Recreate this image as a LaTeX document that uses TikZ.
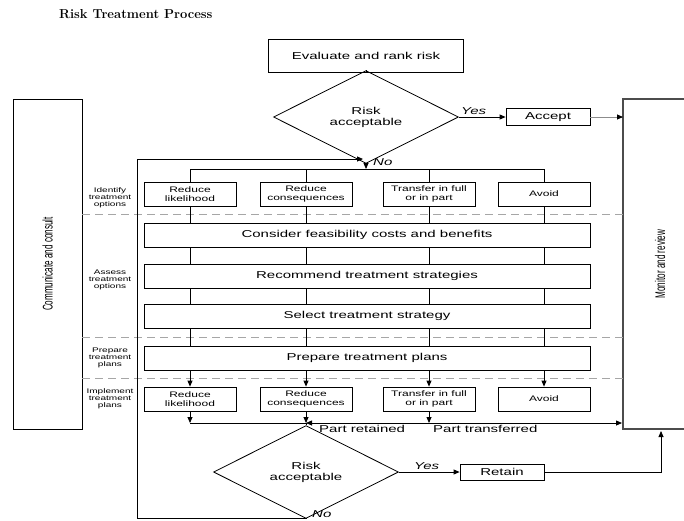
\documentclass[tikz,border=0pt]{standalone}
\usepackage{fontspec}
\setsansfont[FakeStretch=1.5]{Liberation Sans}
\newfontfamily\narrowfont[FakeStretch=0.58]{Liberation Sans}
\usetikzlibrary{shapes.geometric,arrows.meta}
\begin{document}
\begin{tikzpicture}[x=1pt,y=-1pt,
  font=\sffamily,
  ln/.style={line width=0.8pt},
  box/.style={draw, line width=0.8pt, fill=white, inner sep=0pt, align=center},
  bigbox/.style={box, minimum width=446pt, minimum height=24pt, font=\sffamily\fontsize{10}{12}\selectfont},
  optbox/.style={box, minimum width=92pt, minimum height=24pt, font=\sffamily\fontsize{8}{8.6}\selectfont},
  smallbox/.style={box, minimum width=84pt, minimum height=16pt, font=\sffamily\fontsize{10}{12}\selectfont},
  dec/.style={diamond, draw, line width=0.8pt, minimum width=185pt, minimum height=72pt, inner sep=0pt, align=center, font=\sffamily\fontsize{10}{11}\selectfont},
  arr/.style={-{Triangle[length=6pt,width=5pt]}, line width=0.8pt},
  sep/.style={dash pattern=on 8pt off 5pt, draw=gray!70, line width=0.8pt},
  lane/.style={align=center, inner sep=0pt, font=\sffamily\fontsize{6.7}{6.8}\selectfont},
  lbl/.style={inner sep=0pt, font=\sffamily\fontsize{10}{12}\selectfont},
  yn/.style={inner sep=0pt, font=\sffamily\itshape\fontsize{10}{12}\selectfont},
  side/.style={draw, line width=0.8pt, inner sep=0pt, rotate=90, font=\narrowfont\fontsize{14}{16}\selectfont}
]
\useasboundingbox (0,0) rectangle (684,520);

% title
\node[anchor=west, inner sep=0pt, font=\rmfamily\bfseries\fontsize{13}{15}\selectfont] (title) at (59,14) {Risk Treatment Process};

% side boxes
\node[side, minimum width=330pt, minimum height=69pt] (comm) at (47.5,264) {Communicate and consult};
\coordinate (monTL) at (623,99);
\coordinate (monBL) at (623,429);
\coordinate (monR) at (661,429);
\draw[line width=1.3pt, draw=black!70] (684,99) -- (monTL) -- (monBL) -- (684,429);
\node[inner sep=0pt, rotate=90, font=\narrowfont\fontsize{14}{16}\selectfont] (montxt) at (660,264) {Monitor and review};

% separators
\draw[sep] (82,214) -- (623,214);
\draw[sep] (82,337) -- (623,337);
\draw[sep] (82,378) -- (623,378);

% lane labels
\node[lane] (l1) at (110,198) {Identify\\treatment\\options};
\node[lane] (l2) at (110,280) {Assess\\treatment\\options};
\node[lane] (l3) at (110,358) {Prepare\\treatment\\plans};
\node[lane] (l4) at (110,399) {Implement\\treatment\\plans};

% top
\node[box, minimum width=195pt, minimum height=33pt, font=\sffamily\fontsize{10}{12}\selectfont] (eval) at (366,55.5) {Evaluate and rank risk};
\node[dec] (d1) at (366,117) {Risk\\acceptable};
\node[smallbox, minimum height=17pt] (accept) at (548,117) {Accept};

% option rows
\coordinate (bus1) at (0,169);
\coordinate (bus2) at (0,423);
\node[optbox] (ra1) at (190,194) {Reduce\\likelihood};
\node[optbox] (ra2) at (306,194) {Reduce\\consequences};
\node[optbox] (ra3) at (429,194) {Transfer in full\\or in part};
\node[optbox] (ra4) at (544,194) {Avoid};

\node[bigbox] (cf) at (367,235) {Consider feasibility costs and benefits};
\node[bigbox] (rc) at (367,276) {Recommend treatment strategies};
\node[bigbox] (sl) at (367,316) {Select treatment strategy};
\node[bigbox] (pp) at (367,358) {Prepare treatment plans};

\node[optbox] (rb1) at (190,399) {Reduce\\likelihood};
\node[optbox] (rb2) at (306,399) {Reduce\\consequences};
\node[optbox] (rb3) at (429,399) {Transfer in full\\or in part};
\node[optbox] (rb4) at (544,399) {Avoid};

% bottom
\node[dec] (d2) at (306,472) {Risk\\acceptable};
\node[smallbox] (retain) at (502,472) {Retain};

% connectors top
\draw[ln] (eval.south) -- (d1.north);
\draw[arr] (d1.east) -- (accept.west);
\draw[arr, draw=black!45, -{Triangle[length=6pt,width=5pt,color=black]}] (accept.east) -- (accept.east -| monTL);
\draw[arr] (d1.south) -- (d1.south |- bus1);
\draw[ln] (ra1.north |- bus1) -- (ra4.north |- bus1);

\foreach \i in {1,2,3,4} {
  \draw[ln] (ra\i.north |- bus1) -- (ra\i.north);
  \draw[ln] (ra\i.south) -- (ra\i.south |- cf.north);
  \draw[ln] (ra\i.south |- cf.south) -- (ra\i.south |- rc.north);
  \draw[ln] (ra\i.south |- rc.south) -- (ra\i.south |- sl.north);
  \draw[ln] (ra\i.south |- sl.south) -- (ra\i.south |- pp.north);
  \draw[arr] (ra\i.south |- pp.south) -- (rb\i.north);
}
\foreach \i in {1,2,3} {
  \draw[arr] (rb\i.south) -- (rb\i.south |- bus2);
}
\draw[ln] (rb1.south |- bus2) -- (rb2.south |- bus2);
\draw[arr] (rb3.south |- bus2) -- (rb2.south |- bus2);
\draw[arr, shorten >=1pt] (rb3.south |- bus2) -- (bus2 -| monTL);
\draw[ln] (rb2.south |- bus2) -- (d2.north);

\node[lbl, anchor=north west] (pr) at (319,425) {Part retained};
\node[lbl, anchor=north west] (pt) at (433,425) {Part transferred};

% bottom connectors
\draw[arr] (d2.east) -- (retain.west);
\draw[arr, shorten >=2pt] (retain.east) -- (retain.east -| monR) -- (monR);

% loop back
\coordinate (lb) at (137,518);
\coordinate (lt) at (137,159);
\draw[arr, shorten >=3pt] (d2.south) -- (d2.south |- lb) -- (lb) -- (lt) -- (lt -| d1.south);

% yes / no labels
\node[yn, anchor=south west] (y1) at (461,115) {Yes};
\node[yn, anchor=west] (n1) at (373,162) {No};
\node[yn, anchor=south west] (y2) at (414,470) {Yes};
\node[yn, anchor=west] (n2) at (312,514) {No};
\end{tikzpicture}
\end{document}
